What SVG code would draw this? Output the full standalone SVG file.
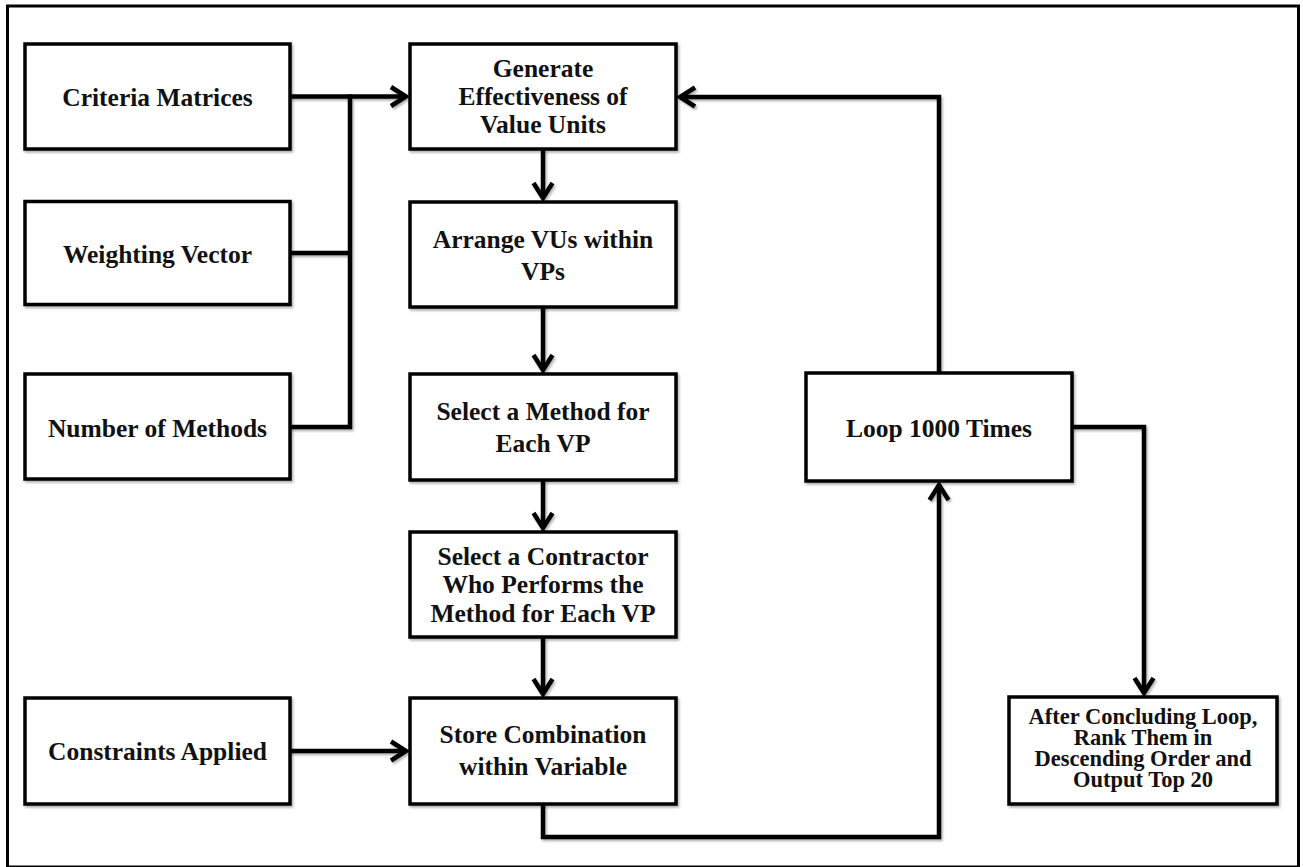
<svg xmlns="http://www.w3.org/2000/svg" width="1303" height="867" viewBox="0 0 1303 867">
  <style>
    .frame { fill: #ffffff; stroke: #000000; stroke-width: 3; }
    .box { fill: #ffffff; stroke: #000000; stroke-width: 3.5; filter: url(#shade); }
    .label { font-family: "Liberation Serif", "Times New Roman", serif; font-weight: bold; font-size: 25.5px; fill: #111111; text-anchor: middle; }
    .small { font-size: 22.5px; }
    .wire { fill: none; stroke: #000000; stroke-width: 4.5; stroke-linejoin: miter; }
    .head { fill: none; stroke: #000000; stroke-width: 4.5; stroke-linejoin: miter; stroke-linecap: butt; }
  </style>
  <defs>
    <filter id="shade" x="-10%" y="-10%" width="130%" height="130%">
      <feDropShadow dx="1.5" dy="2" stdDeviation="1.2" flood-color="#000000" flood-opacity="0.3"/>
    </filter>
    <marker id="arrow" markerUnits="userSpaceOnUse" orient="auto" refX="0" refY="0" markerWidth="20" markerHeight="20" overflow="visible">
      <path class="head" d="M -15 -9.5 L 0 0 L -15 9.5"/>
    </marker>
  </defs>

  <!-- outer frame -->
  <rect class="frame" x="7.5" y="6" width="1291" height="861"/>

  <!-- connectors -->
  <g id="connectors" filter="url(#shade)">
    <!-- inputs into the effectiveness step -->
    <path class="wire" d="M 290 96.5 L 406 96.5" marker-end="url(#arrow)"/>
    <path class="wire" d="M 350 94.5 L 350 429"/>
    <path class="wire" d="M 290 253 L 352 253"/>
    <path class="wire" d="M 290 427 L 352 427"/>
    <!-- main column -->
    <path class="wire" d="M 543 149 L 543 198" marker-end="url(#arrow)"/>
    <path class="wire" d="M 543 305 L 543 370" marker-end="url(#arrow)"/>
    <path class="wire" d="M 543 480 L 543 528" marker-end="url(#arrow)"/>
    <path class="wire" d="M 543 637 L 543 694" marker-end="url(#arrow)"/>
    <!-- constraints -->
    <path class="wire" d="M 290 751 L 406 751" marker-end="url(#arrow)"/>
    <!-- store to loop -->
    <path class="wire" d="M 543 804 L 543 837 L 939 837 L 939 485" marker-end="url(#arrow)"/>
    <!-- loop back to the top -->
    <path class="wire" d="M 939 373 L 939 97 L 680 97" marker-end="url(#arrow)"/>
    <!-- loop to ranking -->
    <path class="wire" d="M 1072 427 L 1144 427 L 1144 693" marker-end="url(#arrow)"/>
  </g>

  <!-- input nodes -->
  <g id="criteria-matrices">
    <rect class="box" x="25" y="44" width="265" height="105"/>
    <text class="label" x="157.5" y="106">Criteria Matrices</text>
  </g>
  <g id="weighting-vector">
    <rect class="box" x="25" y="201.5" width="265" height="103"/>
    <text class="label" x="157.5" y="263">Weighting Vector</text>
  </g>
  <g id="number-of-methods">
    <rect class="box" x="25" y="374" width="265" height="105"/>
    <text class="label" x="157.5" y="436.5">Number of Methods</text>
  </g>
  <g id="constraints-applied">
    <rect class="box" x="25" y="698" width="265" height="106"/>
    <text class="label" x="157.5" y="760">Constraints Applied</text>
  </g>

  <!-- main process column -->
  <g id="generate-effectiveness">
    <rect class="box" x="410" y="44" width="266" height="105"/>
    <text class="label" x="543" y="77">Generate</text>
    <text class="label" x="543" y="105">Effectiveness of</text>
    <text class="label" x="543" y="133">Value Units</text>
  </g>
  <g id="arrange-vus">
    <rect class="box" x="410" y="202" width="266" height="105"/>
    <text class="label" x="543" y="248">Arrange VUs within</text>
    <text class="label" x="543" y="280">VPs</text>
  </g>
  <g id="select-method">
    <rect class="box" x="410" y="374" width="266" height="106"/>
    <text class="label" x="543" y="420">Select a Method for</text>
    <text class="label" x="543" y="452">Each VP</text>
  </g>
  <g id="select-contractor">
    <rect class="box" x="410" y="532" width="266" height="105"/>
    <text class="label" x="543" y="565">Select a Contractor</text>
    <text class="label" x="543" y="593">Who Performs the</text>
    <text class="label" x="543" y="621.5">Method for Each VP</text>
  </g>
  <g id="store-combination">
    <rect class="box" x="410" y="698" width="266" height="106"/>
    <text class="label" x="543" y="743">Store Combination</text>
    <text class="label" x="543" y="775">within Variable</text>
  </g>

  <!-- loop and output -->
  <g id="loop-1000">
    <rect class="box" x="806" y="373" width="266" height="108"/>
    <text class="label" x="939" y="436.5">Loop 1000 Times</text>
  </g>
  <g id="rank-output">
    <rect class="box" x="1009" y="697" width="268" height="107"/>
    <text class="label small" x="1143" y="724">After Concluding Loop,</text>
    <text class="label small" x="1143" y="745">Rank Them in</text>
    <text class="label small" x="1143" y="766">Descending Order and</text>
    <text class="label small" x="1143" y="787">Output Top 20</text>
  </g>
</svg>
